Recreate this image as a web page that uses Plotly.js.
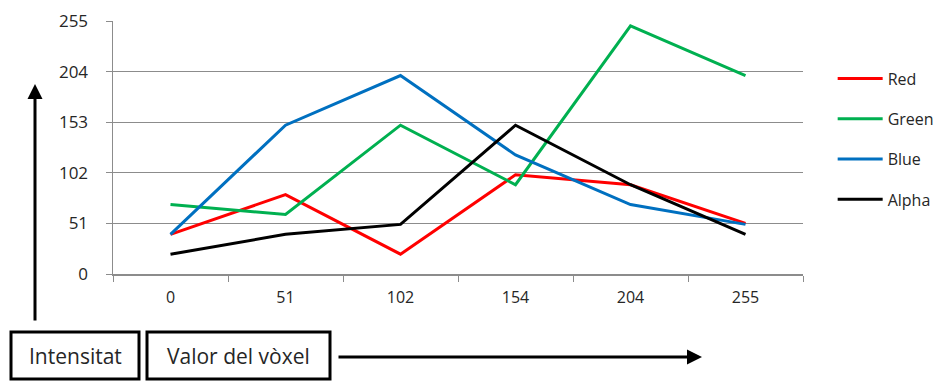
<!DOCTYPE html>
<html>
<head>
<meta charset="utf-8">
<script src="https://cdn.plot.ly/plotly-3.0.1.min.js"></script>
<style>html,body{margin:0;padding:0;background:#fff}</style>
</head>
<body>
<div id="chart" style="width:951px;height:390px"></div>
<script>
const categories = ["0", "51", "102", "154", "204", "255"];
const red = [40, 80, 20, 100, 90, 51];
const green = [70, 60, 150, 90, 250, 200];
const blue = [40, 150, 200, 120, 70, 50];
const alpha = [20, 40, 50, 150, 90, 40];
const yTicks = [0, 51, 102, 153, 204, 255];

const seriesNames = ["Red", "Green", "Blue", "Alpha"];
const seriesValues = [red, green, blue, alpha];
const seriesColors = ["#ff0000", "#00b050", "#0070c0", "#000000"];

const traces = seriesNames.map((n, i) => ({
  type: "scatter", mode: "lines", name: n, legendgroup: "g" + i,
  x: categories, y: seriesValues[i],
  line: {color: seriesColors[i], width: 3}
}));

// plot area in pixels: x 113..803, y 21..274
const L = 113, R = 803, T = 21, B = 274;
const px = v => (v - L) / (R - L);
const py = v => (B - v) / (B - T);

const font = "'Open Sans', sans-serif";
const txt = "#262626";

const layout = {
  width: 951, height: 390,
  margin: {l: L, r: 951 - R, t: T, b: 390 - B},
  paper_bgcolor: "#fff", plot_bgcolor: "#fff",
  font: {family: font, size: 16, color: txt},
  showlegend: true,
  legend: {
    x: 1.043, y: 0.84, xanchor: "left", yanchor: "top",
    font: {family: font, size: 16, color: txt},
    tracegroupgap: 16.5, itemwidth: 45
  },
  xaxis: {
    type: "category", range: [-0.5, 5.5],
    showgrid: false, showline: true, linecolor: "#8c8c8c", linewidth: 1.5,
    ticks: "outside", tickson: "boundaries", ticklen: 6, tickcolor: "#8c8c8c",
    ticklabelstandoff: 8,
    tickfont: {family: font, size: 16, color: txt}, zeroline: false
  },
  yaxis: {
    range: [0, 255], tickvals: yTicks, ticktext: yTicks.map(String),
    showgrid: true, gridcolor: "#8c8c8c", gridwidth: 1.2,
    showline: true, linecolor: "#8c8c8c", linewidth: 1.5,
    ticks: "outside", ticklen: 6, tickcolor: "#8c8c8c",
    ticklabelstandoff: 14,
    tickfont: {family: font, size: 17, color: txt}, zeroline: false
  },
  shapes: [
    {type: "rect", xref: "paper", yref: "paper",
     x0: px(11), x1: px(139), y0: py(332), y1: py(379),
     line: {color: "#000", width: 3}, fillcolor: "#fff"},
    {type: "rect", xref: "paper", yref: "paper",
     x0: px(147), x1: px(330), y0: py(332), y1: py(379),
     line: {color: "#000", width: 3}, fillcolor: "#fff"}
  ],
  annotations: [
    {xref: "paper", yref: "paper", x: px(75), y: py(356), text: "Intensitat",
     xanchor: "center", yanchor: "middle",
     showarrow: false, font: {family: font, size: 21, color: txt}},
    {xref: "paper", yref: "paper", x: px(238), y: py(356), text: "Valor del vòxel",
     xanchor: "center", yanchor: "middle",
     showarrow: false, font: {family: font, size: 21, color: txt}},
    {xref: "paper", yref: "paper", x: px(702), y: py(357), ax: 337 - 702, ay: 0,
     axref: "pixel", ayref: "pixel", text: "", showarrow: true,
     arrowhead: 2, arrowsize: 1, arrowwidth: 3, arrowcolor: "#000"},
    {xref: "paper", yref: "paper", x: px(35), y: py(84), ax: 0, ay: 322 - 84,
     axref: "pixel", ayref: "pixel", text: "", showarrow: true,
     arrowhead: 2, arrowsize: 1, arrowwidth: 3, arrowcolor: "#000"}
  ]
};

Plotly.newPlot("chart", traces, layout, {displayModeBar: false, staticPlot: true});
</script>
</body>
</html>
